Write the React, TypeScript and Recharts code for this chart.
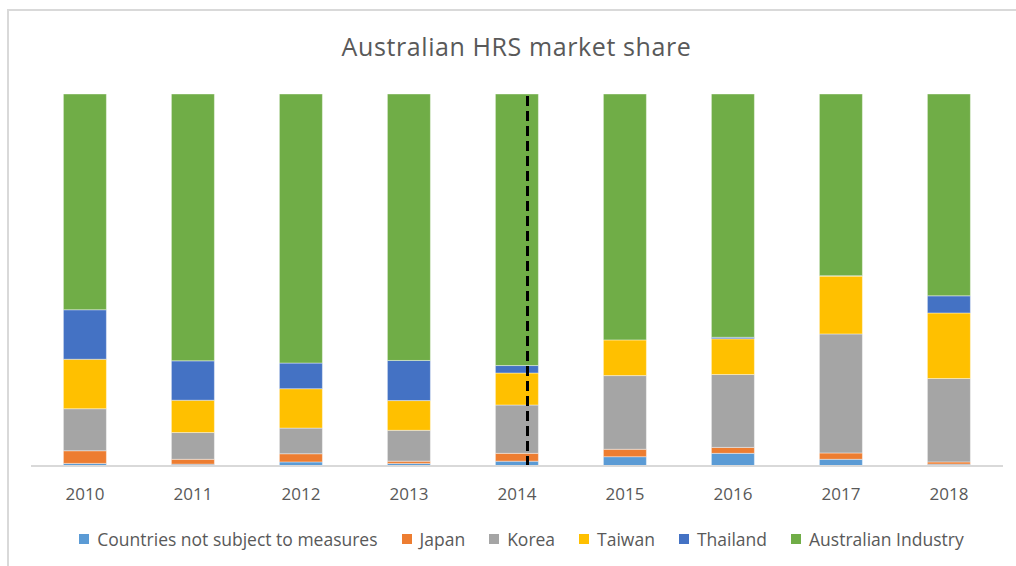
import React from "react"
import { BarChart, Bar, XAxis, YAxis, Legend, ReferenceLine } from "recharts"

const years = ["2010", "2011", "2012", "2013", "2014", "2015", "2016", "2017", "2018"]
const notSubject = [0.7, 0.5, 1.1, 0.7, 1.3, 2.5, 3.4, 1.8, 0.5]
const japan = [3.4, 1.3, 2.2, 0.6, 2.1, 2.0, 1.6, 1.7, 0.6]
const korea = [11.3, 7.2, 6.9, 8.3, 13.0, 19.8, 19.6, 31.9, 22.4]
const taiwan = [13.3, 8.7, 10.6, 8.0, 8.6, 9.6, 9.6, 15.5, 17.6]
const thailand = [13.3, 10.6, 6.9, 10.8, 2.0, 0.0, 0.4, 0.1, 4.6]
const industry = [58.0, 71.8, 72.4, 71.7, 73.0, 66.1, 65.4, 48.7, 54.2]

const series = [
  { key: "notSubject", name: "Countries not subject to measures", color: "#5B9BD5" },
  { key: "japan", name: "Japan", color: "#ED7D31" },
  { key: "korea", name: "Korea", color: "#A5A5A5" },
  { key: "taiwan", name: "Taiwan", color: "#FFC000" },
  { key: "thailand", name: "Thailand", color: "#4472C4" },
  { key: "industry", name: "Australian Industry", color: "#70AD47" },
]

const data = years.map((year, i) => ({
  year,
  notSubject: notSubject[i],
  japan: japan[i],
  korea: korea[i],
  taiwan: taiwan[i],
  thailand: thailand[i],
  industry: industry[i],
}))

const font = "'Open Sans', sans-serif"
const textColor = "#595959"

function LegendContent() {
  return (
    <div
      style={{
        display: "flex",
        justifyContent: "center",
        alignItems: "center",
        height: 34,
        fontFamily: font,
        fontSize: 17.5,
        color: textColor,
        gap: 24,
        paddingLeft: 9,
      }}
    >
      {series.map((s) => (
        <div key={s.key} style={{ display: "flex", alignItems: "center" }}>
          <span style={{ width: 10, height: 10, background: s.color, marginRight: 8, display: "inline-block" }} />
          <span>{s.name}</span>
        </div>
      ))}
    </div>
  )
}

// dashed divider sits a little right of the 2014 bar's centre
function DashedMarker(props: any) {
  const { x1, y1, y2 } = props
  const x = x1 + 10.5
  return <line x1={x} y1={y1} x2={x} y2={y2} stroke="#000" strokeWidth={3} strokeDasharray="10 5" />
}

export default function App() {
  return (
    <div style={{ position: "absolute", left: 0, top: 0, width: 1016, height: 566, background: "#fff" }}>
      <div
        style={{
          position: "absolute",
          left: 7,
          top: 9,
          right: 0,
          bottom: 0,
          borderTop: "2px solid #d9d9d9",
          borderLeft: "2px solid #d9d9d9",
        }}
      />
      <div
        style={{
          position: "absolute",
          top: 29,
          left: 0,
          width: 1033,
          textAlign: "center",
          fontFamily: font,
          fontSize: 25,
          letterSpacing: 0.6,
          color: textColor,
        }}
      >
        Australian HRS market share
      </div>
      <BarChart
        width={1016}
        height={566}
        data={data}
        stackOffset="expand"
        barCategoryGap="30%"
        margin={{ top: 94, right: 13, left: 31, bottom: 10 }}
        style={{ position: "absolute", left: 0, top: 0 }}
      >
        <XAxis
          dataKey="year"
          height={56}
          tickLine={false}
          tickSize={0}
          tickMargin={22}
          axisLine={{ stroke: "#d9d9d9", strokeWidth: 2 }}
          tick={{ fill: textColor, fontSize: 17, fontFamily: font }}
        />
        <YAxis hide domain={[0, 1]} />
        {series.map((s) => (
          <Bar
            key={s.key}
            dataKey={s.key}
            name={s.name}
            stackId="share"
            fill={s.color}
            stroke="#ffffff"
            strokeOpacity={0.4}
            strokeWidth={1}
            isAnimationActive={false}
          />
        ))}
        <ReferenceLine x="2014" shape={<DashedMarker />} />
        <Legend verticalAlign="bottom" height={34} content={<LegendContent />} />
      </BarChart>
    </div>
  )
}
